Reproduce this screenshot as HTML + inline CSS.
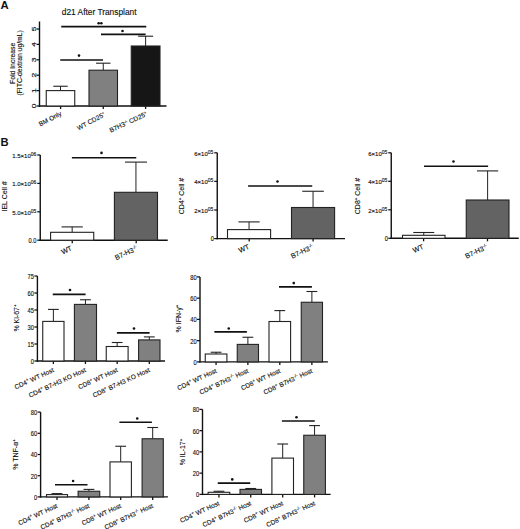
<!DOCTYPE html>
<html><head><meta charset="utf-8"><style>
html,body{margin:0;padding:0;background:#fff;}
body{width:520px;height:529px;overflow:hidden;}
svg{display:block;font-family:"Liberation Sans", sans-serif;}
</style></head><body>
<svg width="520" height="529" viewBox="0 0 520 529">
<rect width="520" height="529" fill="#fff"/>
<text x="0.60" y="9.00" font-size="11.3" text-anchor="start" font-weight="bold" fill="#111">A</text>
<text x="99.20" y="15.40" font-size="8.35" text-anchor="middle" font-weight="normal" fill="#111" stroke="#111" stroke-width="0.13">d21 After Transplant</text>
<line x1="39.50" y1="21.50" x2="39.50" y2="106.70" stroke="#111" stroke-width="1.4"/>
<line x1="36.50" y1="106.00" x2="39.50" y2="106.00" stroke="#111" stroke-width="1.25"/>
<line x1="36.50" y1="90.60" x2="39.50" y2="90.60" stroke="#111" stroke-width="1.25"/>
<line x1="36.50" y1="75.20" x2="39.50" y2="75.20" stroke="#111" stroke-width="1.25"/>
<line x1="36.50" y1="59.80" x2="39.50" y2="59.80" stroke="#111" stroke-width="1.25"/>
<line x1="36.50" y1="44.40" x2="39.50" y2="44.40" stroke="#111" stroke-width="1.25"/>
<line x1="36.50" y1="29.00" x2="39.50" y2="29.00" stroke="#111" stroke-width="1.25"/>
<text transform="translate(36.0 106.00) rotate(-90) scale(1 0.58)" font-size="8.4" text-anchor="middle" fill="#111" stroke="#111" stroke-width="0.3">0</text>
<text transform="translate(36.0 90.60) rotate(-90) scale(1 0.58)" font-size="8.4" text-anchor="middle" fill="#111" stroke="#111" stroke-width="0.3">1</text>
<text transform="translate(36.0 75.20) rotate(-90) scale(1 0.58)" font-size="8.4" text-anchor="middle" fill="#111" stroke="#111" stroke-width="0.3">2</text>
<text transform="translate(36.0 59.80) rotate(-90) scale(1 0.58)" font-size="8.4" text-anchor="middle" fill="#111" stroke="#111" stroke-width="0.3">3</text>
<text transform="translate(36.0 44.40) rotate(-90) scale(1 0.58)" font-size="8.4" text-anchor="middle" fill="#111" stroke="#111" stroke-width="0.3">4</text>
<text transform="translate(36.0 29.00) rotate(-90) scale(1 0.58)" font-size="8.4" text-anchor="middle" fill="#111" stroke="#111" stroke-width="0.3">5</text>
<line x1="38.80" y1="106.00" x2="166.50" y2="106.00" stroke="#111" stroke-width="1.4"/>
<line x1="60.60" y1="106.00" x2="60.60" y2="109.00" stroke="#111" stroke-width="1.3"/>
<line x1="103.25" y1="106.00" x2="103.25" y2="109.00" stroke="#111" stroke-width="1.3"/>
<line x1="145.60" y1="106.00" x2="145.60" y2="109.00" stroke="#111" stroke-width="1.3"/>
<line x1="60.50" y1="90.60" x2="60.50" y2="86.25" stroke="#222" stroke-width="1.0"/>
<line x1="53.30" y1="86.25" x2="67.70" y2="86.25" stroke="#222" stroke-width="1.1"/>
<rect x="46.25" y="90.60" width="28.50" height="15.40" fill="#ffffff" stroke="#222" stroke-width="1.1"/>
<line x1="103.25" y1="70.20" x2="103.25" y2="63.20" stroke="#222" stroke-width="1.0"/>
<line x1="96.05" y1="63.20" x2="110.45" y2="63.20" stroke="#222" stroke-width="1.1"/>
<rect x="89.00" y="70.20" width="28.50" height="35.80" fill="#808080" stroke="#222" stroke-width="1.1"/>
<line x1="145.62" y1="46.00" x2="145.62" y2="36.20" stroke="#222" stroke-width="1.0"/>
<line x1="138.12" y1="36.20" x2="153.12" y2="36.20" stroke="#222" stroke-width="1.1"/>
<rect x="131.25" y="46.00" width="28.75" height="60.00" fill="#161616" stroke="#222" stroke-width="1.1"/>
<line x1="61.25" y1="26.60" x2="146.25" y2="26.60" stroke="#111" stroke-width="1.6"/>
<circle cx="98.65" cy="23.20" r="1.3" fill="#111"/>
<circle cx="101.35" cy="23.20" r="1.3" fill="#111"/>
<line x1="101.00" y1="34.40" x2="145.60" y2="34.40" stroke="#111" stroke-width="1.6"/>
<circle cx="122.50" cy="31.00" r="1.3" fill="#111"/>
<line x1="60.25" y1="60.00" x2="103.00" y2="60.00" stroke="#111" stroke-width="1.6"/>
<circle cx="79.00" cy="55.60" r="1.3" fill="#111"/>
<text x="14.60" y="63.30" font-size="6.8" text-anchor="middle" font-weight="normal" fill="#111" stroke="#111" stroke-width="0.13" transform="rotate(-90 14.60 63.30)">Fold Increase</text>
<text x="22.10" y="62.90" font-size="6.8" text-anchor="middle" font-weight="normal" fill="#111" stroke="#111" stroke-width="0.13" transform="rotate(-90 22.10 62.90)">(FITC-dextran ug/mL)</text>
<text x="62.00" y="115.00" font-size="6.4" text-anchor="end" font-weight="normal" fill="#111" stroke="#111" stroke-width="0.13" transform="rotate(-28 62.00 115.00)">BM Only</text>
<text x="105.60" y="116.00" font-size="6.5" text-anchor="end" font-weight="normal" fill="#111" stroke="#111" stroke-width="0.13" transform="rotate(-28 105.60 116.00)">WT CD25<tspan dy="-2.6" font-size="3.8">+</tspan></text>
<text x="147.60" y="115.60" font-size="6.6" text-anchor="end" font-weight="normal" fill="#111" stroke="#111" stroke-width="0.13" transform="rotate(-25 147.60 115.60)">B7H3<tspan dy="-2.6" font-size="3.4">-/-</tspan><tspan dy="2.6"> CD25</tspan><tspan dy="-2.6" font-size="3.8">+</tspan></text>
<text x="0.60" y="145.80" font-size="11.2" text-anchor="start" font-weight="bold" fill="#111">B</text>
<line x1="40.25" y1="155.00" x2="40.25" y2="240.90" stroke="#111" stroke-width="1.4"/>
<line x1="37.25" y1="240.20" x2="40.25" y2="240.20" stroke="#111" stroke-width="1.25"/>
<line x1="37.25" y1="211.80" x2="40.25" y2="211.80" stroke="#111" stroke-width="1.25"/>
<line x1="37.25" y1="183.40" x2="40.25" y2="183.40" stroke="#111" stroke-width="1.25"/>
<line x1="37.25" y1="155.00" x2="40.25" y2="155.00" stroke="#111" stroke-width="1.25"/>
<text transform="translate(36.40 242.60) scale(0.86 1)" font-size="6.7" text-anchor="end" font-weight="normal" fill="#111" stroke="#111" stroke-width="0.13">0.0</text>
<text x="36.30" y="214.80" font-size="6.0" text-anchor="end" font-weight="normal" fill="#111" stroke="#111" stroke-width="0.13">5.0×10<tspan dy="-2.2" font-size="5.0">05</tspan></text>
<text x="36.30" y="186.40" font-size="6.0" text-anchor="end" font-weight="normal" fill="#111" stroke="#111" stroke-width="0.13">1.0×10<tspan dy="-2.2" font-size="5.0">06</tspan></text>
<text x="36.30" y="158.00" font-size="6.0" text-anchor="end" font-weight="normal" fill="#111" stroke="#111" stroke-width="0.13">1.5×10<tspan dy="-2.2" font-size="5.0">06</tspan></text>
<line x1="39.55" y1="240.20" x2="167.70" y2="240.20" stroke="#111" stroke-width="1.4"/>
<line x1="72.25" y1="240.20" x2="72.25" y2="243.20" stroke="#111" stroke-width="1.3"/>
<line x1="136.20" y1="240.20" x2="136.20" y2="243.20" stroke="#111" stroke-width="1.3"/>
<line x1="72.17" y1="232.30" x2="72.17" y2="226.90" stroke="#222" stroke-width="1.0"/>
<line x1="61.57" y1="226.90" x2="82.77" y2="226.90" stroke="#222" stroke-width="1.1"/>
<rect x="50.60" y="232.30" width="43.15" height="7.90" fill="#ffffff" stroke="#222" stroke-width="1.1"/>
<line x1="135.95" y1="192.30" x2="135.95" y2="162.10" stroke="#222" stroke-width="1.0"/>
<line x1="124.95" y1="162.10" x2="146.95" y2="162.10" stroke="#222" stroke-width="1.1"/>
<rect x="114.40" y="192.30" width="43.10" height="47.90" fill="#636363" stroke="#222" stroke-width="1.1"/>
<line x1="71.90" y1="157.75" x2="136.25" y2="157.75" stroke="#111" stroke-width="1.6"/>
<circle cx="101.50" cy="152.90" r="1.3" fill="#111"/>
<text x="7.20" y="196.50" font-size="7" text-anchor="middle" font-weight="normal" fill="#111" stroke="#111" stroke-width="0.13" transform="rotate(-90 7.20 196.50)">IEL Cell #</text>
<text x="72.50" y="250.00" font-size="7.0" text-anchor="end" font-weight="normal" fill="#111" stroke="#111" stroke-width="0.13" transform="rotate(-25 72.50 250.00)">WT</text>
<text x="138.00" y="250.00" font-size="7.0" text-anchor="end" font-weight="normal" fill="#111" stroke="#111" stroke-width="0.13" transform="rotate(-25 138.00 250.00)">B7-H3<tspan dy="-2.6" font-size="4.4">-/-</tspan></text>
<line x1="217.25" y1="152.75" x2="217.25" y2="239.30" stroke="#111" stroke-width="1.4"/>
<line x1="214.25" y1="238.60" x2="217.25" y2="238.60" stroke="#111" stroke-width="1.25"/>
<line x1="214.25" y1="210.00" x2="217.25" y2="210.00" stroke="#111" stroke-width="1.25"/>
<line x1="214.25" y1="181.40" x2="217.25" y2="181.40" stroke="#111" stroke-width="1.25"/>
<line x1="214.25" y1="152.80" x2="217.25" y2="152.80" stroke="#111" stroke-width="1.25"/>
<text transform="translate(213.90 241.00) scale(0.86 1)" font-size="6.7" text-anchor="end" font-weight="normal" fill="#111" stroke="#111" stroke-width="0.13">0</text>
<text x="213.30" y="213.00" font-size="6.0" text-anchor="end" font-weight="normal" fill="#111" stroke="#111" stroke-width="0.13">2×10<tspan dy="-2.2" font-size="5.0">05</tspan></text>
<text x="213.30" y="184.40" font-size="6.0" text-anchor="end" font-weight="normal" fill="#111" stroke="#111" stroke-width="0.13">4×10<tspan dy="-2.2" font-size="5.0">05</tspan></text>
<text x="213.30" y="155.80" font-size="6.0" text-anchor="end" font-weight="normal" fill="#111" stroke="#111" stroke-width="0.13">6×10<tspan dy="-2.2" font-size="5.0">05</tspan></text>
<line x1="216.55" y1="238.60" x2="345.00" y2="238.60" stroke="#111" stroke-width="1.4"/>
<line x1="249.20" y1="238.60" x2="249.20" y2="241.60" stroke="#111" stroke-width="1.3"/>
<line x1="313.10" y1="238.60" x2="313.10" y2="241.60" stroke="#111" stroke-width="1.3"/>
<line x1="249.05" y1="229.60" x2="249.05" y2="221.90" stroke="#222" stroke-width="1.0"/>
<line x1="238.45" y1="221.90" x2="259.65" y2="221.90" stroke="#222" stroke-width="1.1"/>
<rect x="227.50" y="229.60" width="43.10" height="9.00" fill="#ffffff" stroke="#222" stroke-width="1.1"/>
<line x1="313.05" y1="207.50" x2="313.05" y2="191.25" stroke="#222" stroke-width="1.0"/>
<line x1="302.25" y1="191.25" x2="323.85" y2="191.25" stroke="#222" stroke-width="1.1"/>
<rect x="291.50" y="207.50" width="43.10" height="31.10" fill="#636363" stroke="#222" stroke-width="1.1"/>
<line x1="248.10" y1="186.00" x2="312.25" y2="186.00" stroke="#111" stroke-width="1.6"/>
<circle cx="277.50" cy="181.50" r="1.3" fill="#111"/>
<text x="183.50" y="196.00" font-size="7" text-anchor="middle" font-weight="normal" fill="#111" stroke="#111" stroke-width="0.13" transform="rotate(-90 183.50 196.00)">CD4<tspan dy="-2.6" font-size="4.4">+</tspan><tspan dy="2.6"> Cell #</tspan></text>
<text x="249.80" y="248.50" font-size="7.0" text-anchor="end" font-weight="normal" fill="#111" stroke="#111" stroke-width="0.13" transform="rotate(-25 249.80 248.50)">WT</text>
<text x="314.00" y="248.50" font-size="7.0" text-anchor="end" font-weight="normal" fill="#111" stroke="#111" stroke-width="0.13" transform="rotate(-25 314.00 248.50)">B7-H3<tspan dy="-2.6" font-size="4.4">-/-</tspan></text>
<line x1="391.25" y1="152.75" x2="391.25" y2="239.00" stroke="#111" stroke-width="1.4"/>
<line x1="388.25" y1="238.30" x2="391.25" y2="238.30" stroke="#111" stroke-width="1.25"/>
<line x1="388.25" y1="209.80" x2="391.25" y2="209.80" stroke="#111" stroke-width="1.25"/>
<line x1="388.25" y1="181.30" x2="391.25" y2="181.30" stroke="#111" stroke-width="1.25"/>
<line x1="388.25" y1="152.80" x2="391.25" y2="152.80" stroke="#111" stroke-width="1.25"/>
<text transform="translate(388.00 240.70) scale(0.86 1)" font-size="6.7" text-anchor="end" font-weight="normal" fill="#111" stroke="#111" stroke-width="0.13">0</text>
<text x="387.30" y="212.80" font-size="6.0" text-anchor="end" font-weight="normal" fill="#111" stroke="#111" stroke-width="0.13">2×10<tspan dy="-2.2" font-size="5.0">05</tspan></text>
<text x="387.30" y="184.30" font-size="6.0" text-anchor="end" font-weight="normal" fill="#111" stroke="#111" stroke-width="0.13">4×10<tspan dy="-2.2" font-size="5.0">05</tspan></text>
<text x="387.30" y="155.80" font-size="6.0" text-anchor="end" font-weight="normal" fill="#111" stroke="#111" stroke-width="0.13">6×10<tspan dy="-2.2" font-size="5.0">05</tspan></text>
<line x1="390.55" y1="238.30" x2="518.75" y2="238.30" stroke="#111" stroke-width="1.4"/>
<line x1="423.60" y1="238.30" x2="423.60" y2="241.30" stroke="#111" stroke-width="1.3"/>
<line x1="487.50" y1="238.30" x2="487.50" y2="241.30" stroke="#111" stroke-width="1.3"/>
<line x1="423.75" y1="235.30" x2="423.75" y2="232.50" stroke="#222" stroke-width="1.0"/>
<line x1="413.25" y1="232.50" x2="434.25" y2="232.50" stroke="#222" stroke-width="1.1"/>
<rect x="402.50" y="235.30" width="42.50" height="3.00" fill="#ffffff" stroke="#222" stroke-width="1.1"/>
<line x1="487.62" y1="200.00" x2="487.62" y2="170.90" stroke="#222" stroke-width="1.0"/>
<line x1="477.02" y1="170.90" x2="498.23" y2="170.90" stroke="#222" stroke-width="1.1"/>
<rect x="466.25" y="200.00" width="42.75" height="38.30" fill="#636363" stroke="#222" stroke-width="1.1"/>
<line x1="424.00" y1="166.20" x2="488.10" y2="166.20" stroke="#111" stroke-width="1.6"/>
<circle cx="453.50" cy="161.50" r="1.3" fill="#111"/>
<text x="359.80" y="196.00" font-size="7" text-anchor="middle" font-weight="normal" fill="#111" stroke="#111" stroke-width="0.13" transform="rotate(-90 359.80 196.00)">CD8<tspan dy="-2.6" font-size="4.4">+</tspan><tspan dy="2.6"> Cell #</tspan></text>
<text x="424.20" y="248.50" font-size="7.0" text-anchor="end" font-weight="normal" fill="#111" stroke="#111" stroke-width="0.13" transform="rotate(-25 424.20 248.50)">WT</text>
<text x="488.20" y="248.50" font-size="7.0" text-anchor="end" font-weight="normal" fill="#111" stroke="#111" stroke-width="0.13" transform="rotate(-25 488.20 248.50)">B7-H3<tspan dy="-2.6" font-size="4.4">-/-</tspan></text>
<line x1="37.40" y1="276.00" x2="37.40" y2="361.70" stroke="#111" stroke-width="1.4"/>
<line x1="34.40" y1="361.00" x2="37.40" y2="361.00" stroke="#111" stroke-width="1.25"/>
<line x1="34.40" y1="344.00" x2="37.40" y2="344.00" stroke="#111" stroke-width="1.25"/>
<line x1="34.40" y1="327.00" x2="37.40" y2="327.00" stroke="#111" stroke-width="1.25"/>
<line x1="34.40" y1="310.00" x2="37.40" y2="310.00" stroke="#111" stroke-width="1.25"/>
<line x1="34.40" y1="293.00" x2="37.40" y2="293.00" stroke="#111" stroke-width="1.25"/>
<line x1="34.40" y1="276.00" x2="37.40" y2="276.00" stroke="#111" stroke-width="1.25"/>
<text transform="translate(34.00 363.90) scale(0.86 1)" font-size="6.7" text-anchor="end" font-weight="normal" fill="#111" stroke="#111" stroke-width="0.13">0</text>
<text transform="translate(34.00 346.90) scale(0.86 1)" font-size="6.7" text-anchor="end" font-weight="normal" fill="#111" stroke="#111" stroke-width="0.13">15</text>
<text transform="translate(34.00 329.90) scale(0.86 1)" font-size="6.7" text-anchor="end" font-weight="normal" fill="#111" stroke="#111" stroke-width="0.13">30</text>
<text transform="translate(34.00 312.90) scale(0.86 1)" font-size="6.7" text-anchor="end" font-weight="normal" fill="#111" stroke="#111" stroke-width="0.13">45</text>
<text transform="translate(34.00 295.90) scale(0.86 1)" font-size="6.7" text-anchor="end" font-weight="normal" fill="#111" stroke="#111" stroke-width="0.13">60</text>
<text transform="translate(34.00 278.90) scale(0.86 1)" font-size="6.7" text-anchor="end" font-weight="normal" fill="#111" stroke="#111" stroke-width="0.13">75</text>
<line x1="36.70" y1="361.00" x2="165.00" y2="361.00" stroke="#111" stroke-width="1.4"/>
<line x1="53.38" y1="361.00" x2="53.38" y2="364.00" stroke="#111" stroke-width="1.3"/>
<line x1="85.45" y1="361.00" x2="85.45" y2="364.00" stroke="#111" stroke-width="1.3"/>
<line x1="117.17" y1="361.00" x2="117.17" y2="364.00" stroke="#111" stroke-width="1.3"/>
<line x1="149.30" y1="361.00" x2="149.30" y2="364.00" stroke="#111" stroke-width="1.3"/>
<line x1="53.38" y1="321.40" x2="53.38" y2="309.40" stroke="#222" stroke-width="1.0"/>
<line x1="47.98" y1="309.40" x2="58.77" y2="309.40" stroke="#222" stroke-width="1.1"/>
<rect x="42.75" y="321.40" width="21.25" height="39.60" fill="#ffffff" stroke="#222" stroke-width="1.1"/>
<line x1="85.45" y1="304.40" x2="85.45" y2="299.75" stroke="#222" stroke-width="1.0"/>
<line x1="80.05" y1="299.75" x2="90.85" y2="299.75" stroke="#222" stroke-width="1.1"/>
<rect x="74.40" y="304.40" width="22.10" height="56.60" fill="#808080" stroke="#222" stroke-width="1.1"/>
<line x1="117.17" y1="346.50" x2="117.17" y2="342.50" stroke="#222" stroke-width="1.0"/>
<line x1="111.77" y1="342.50" x2="122.58" y2="342.50" stroke="#222" stroke-width="1.1"/>
<rect x="106.25" y="346.50" width="21.85" height="14.50" fill="#ffffff" stroke="#222" stroke-width="1.1"/>
<line x1="149.30" y1="339.90" x2="149.30" y2="336.90" stroke="#222" stroke-width="1.0"/>
<line x1="143.90" y1="336.90" x2="154.70" y2="336.90" stroke="#222" stroke-width="1.1"/>
<rect x="138.60" y="339.90" width="21.40" height="21.10" fill="#808080" stroke="#222" stroke-width="1.1"/>
<line x1="52.75" y1="294.40" x2="85.60" y2="294.40" stroke="#111" stroke-width="1.6"/>
<circle cx="70.00" cy="290.00" r="1.3" fill="#111"/>
<line x1="116.90" y1="332.90" x2="149.60" y2="332.90" stroke="#111" stroke-width="1.6"/>
<circle cx="134.00" cy="328.50" r="1.3" fill="#111"/>
<text x="18.60" y="318.00" font-size="7.0" text-anchor="middle" font-weight="normal" fill="#111" stroke="#111" stroke-width="0.13" transform="rotate(-90 18.60 318.00)">% Ki-67<tspan dy="-2.6" font-size="4.4">+</tspan></text>
<text x="54.38" y="371.50" font-size="6.5" text-anchor="end" font-weight="normal" fill="#111" stroke="#111" stroke-width="0.13" transform="rotate(-25 54.38 371.50)">CD4<tspan dy="-2.6" font-size="4.4">+</tspan><tspan dy="2.6"> WT Host</tspan></text>
<text x="86.45" y="371.50" font-size="6.5" text-anchor="end" font-weight="normal" fill="#111" stroke="#111" stroke-width="0.13" transform="rotate(-25 86.45 371.50)">CD4<tspan dy="-2.6" font-size="4.4">+</tspan><tspan dy="2.6"> B7-H3 KO Host</tspan></text>
<text x="118.17" y="371.50" font-size="6.5" text-anchor="end" font-weight="normal" fill="#111" stroke="#111" stroke-width="0.13" transform="rotate(-25 118.17 371.50)">CD8<tspan dy="-2.6" font-size="4.4">+</tspan><tspan dy="2.6"> WT Host</tspan></text>
<text x="150.30" y="371.50" font-size="6.5" text-anchor="end" font-weight="normal" fill="#111" stroke="#111" stroke-width="0.13" transform="rotate(-25 150.30 371.50)">CD8<tspan dy="-2.6" font-size="4.4">+</tspan><tspan dy="2.6"> B7-H3 KO Host</tspan></text>
<line x1="200.00" y1="276.90" x2="200.00" y2="362.60" stroke="#111" stroke-width="1.4"/>
<line x1="197.00" y1="361.90" x2="200.00" y2="361.90" stroke="#111" stroke-width="1.25"/>
<line x1="197.00" y1="340.65" x2="200.00" y2="340.65" stroke="#111" stroke-width="1.25"/>
<line x1="197.00" y1="319.40" x2="200.00" y2="319.40" stroke="#111" stroke-width="1.25"/>
<line x1="197.00" y1="298.15" x2="200.00" y2="298.15" stroke="#111" stroke-width="1.25"/>
<line x1="197.00" y1="276.90" x2="200.00" y2="276.90" stroke="#111" stroke-width="1.25"/>
<text transform="translate(196.60 364.80) scale(0.86 1)" font-size="6.7" text-anchor="end" font-weight="normal" fill="#111" stroke="#111" stroke-width="0.13">0</text>
<text transform="translate(196.60 343.55) scale(0.86 1)" font-size="6.7" text-anchor="end" font-weight="normal" fill="#111" stroke="#111" stroke-width="0.13">20</text>
<text transform="translate(196.60 322.30) scale(0.86 1)" font-size="6.7" text-anchor="end" font-weight="normal" fill="#111" stroke="#111" stroke-width="0.13">40</text>
<text transform="translate(196.60 301.05) scale(0.86 1)" font-size="6.7" text-anchor="end" font-weight="normal" fill="#111" stroke="#111" stroke-width="0.13">60</text>
<text transform="translate(196.60 279.80) scale(0.86 1)" font-size="6.7" text-anchor="end" font-weight="normal" fill="#111" stroke="#111" stroke-width="0.13">80</text>
<line x1="199.30" y1="361.90" x2="327.90" y2="361.90" stroke="#111" stroke-width="1.4"/>
<line x1="216.07" y1="361.90" x2="216.07" y2="364.90" stroke="#111" stroke-width="1.3"/>
<line x1="247.88" y1="361.90" x2="247.88" y2="364.90" stroke="#111" stroke-width="1.3"/>
<line x1="279.80" y1="361.90" x2="279.80" y2="364.90" stroke="#111" stroke-width="1.3"/>
<line x1="311.88" y1="361.90" x2="311.88" y2="364.90" stroke="#111" stroke-width="1.3"/>
<line x1="216.07" y1="354.00" x2="216.07" y2="352.25" stroke="#222" stroke-width="1.0"/>
<line x1="210.67" y1="352.25" x2="221.47" y2="352.25" stroke="#222" stroke-width="1.1"/>
<rect x="205.25" y="354.00" width="21.65" height="7.90" fill="#ffffff" stroke="#222" stroke-width="1.1"/>
<line x1="247.88" y1="344.40" x2="247.88" y2="337.25" stroke="#222" stroke-width="1.0"/>
<line x1="242.47" y1="337.25" x2="253.28" y2="337.25" stroke="#222" stroke-width="1.1"/>
<rect x="237.25" y="344.40" width="21.25" height="17.50" fill="#808080" stroke="#222" stroke-width="1.1"/>
<line x1="279.80" y1="321.50" x2="279.80" y2="310.60" stroke="#222" stroke-width="1.0"/>
<line x1="274.40" y1="310.60" x2="285.20" y2="310.60" stroke="#222" stroke-width="1.1"/>
<rect x="269.00" y="321.50" width="21.60" height="40.40" fill="#ffffff" stroke="#222" stroke-width="1.1"/>
<line x1="311.88" y1="302.25" x2="311.88" y2="291.50" stroke="#222" stroke-width="1.0"/>
<line x1="306.48" y1="291.50" x2="317.27" y2="291.50" stroke="#222" stroke-width="1.1"/>
<rect x="301.25" y="302.25" width="21.25" height="59.65" fill="#808080" stroke="#222" stroke-width="1.1"/>
<line x1="214.40" y1="331.90" x2="246.90" y2="331.90" stroke="#111" stroke-width="1.6"/>
<circle cx="228.75" cy="328.50" r="1.3" fill="#111"/>
<line x1="279.00" y1="286.90" x2="311.90" y2="286.90" stroke="#111" stroke-width="1.6"/>
<circle cx="293.75" cy="283.10" r="1.3" fill="#111"/>
<text x="181.00" y="318.50" font-size="7.0" text-anchor="middle" font-weight="normal" fill="#111" stroke="#111" stroke-width="0.13" transform="rotate(-90 181.00 318.50)">% IFN-γ<tspan dy="-2.6" font-size="4.4">+</tspan></text>
<text x="217.07" y="372.40" font-size="6.5" text-anchor="end" font-weight="normal" fill="#111" stroke="#111" stroke-width="0.13" transform="rotate(-25 217.07 372.40)">CD4<tspan dy="-2.6" font-size="4.4">+</tspan><tspan dy="2.6"> WT Host</tspan></text>
<text x="248.88" y="372.40" font-size="6.5" text-anchor="end" font-weight="normal" fill="#111" stroke="#111" stroke-width="0.13" transform="rotate(-25 248.88 372.40)">CD4<tspan dy="-2.6" font-size="4.4">+</tspan><tspan dy="2.6"> B7H3</tspan><tspan dy="-2.6" font-size="4.4">-/-</tspan><tspan dy="2.6"> Host</tspan></text>
<text x="280.80" y="372.40" font-size="6.5" text-anchor="end" font-weight="normal" fill="#111" stroke="#111" stroke-width="0.13" transform="rotate(-25 280.80 372.40)">CD8<tspan dy="-2.6" font-size="4.4">+</tspan><tspan dy="2.6"> WT Host</tspan></text>
<text x="312.88" y="372.40" font-size="6.5" text-anchor="end" font-weight="normal" fill="#111" stroke="#111" stroke-width="0.13" transform="rotate(-25 312.88 372.40)">CD8<tspan dy="-2.6" font-size="4.4">+</tspan><tspan dy="2.6"> B7H3</tspan><tspan dy="-2.6" font-size="4.4">-/-</tspan><tspan dy="2.6"> Host</tspan></text>
<line x1="40.60" y1="412.10" x2="40.60" y2="497.60" stroke="#111" stroke-width="1.4"/>
<line x1="37.60" y1="496.90" x2="40.60" y2="496.90" stroke="#111" stroke-width="1.25"/>
<line x1="37.60" y1="475.70" x2="40.60" y2="475.70" stroke="#111" stroke-width="1.25"/>
<line x1="37.60" y1="454.50" x2="40.60" y2="454.50" stroke="#111" stroke-width="1.25"/>
<line x1="37.60" y1="433.30" x2="40.60" y2="433.30" stroke="#111" stroke-width="1.25"/>
<line x1="37.60" y1="412.10" x2="40.60" y2="412.10" stroke="#111" stroke-width="1.25"/>
<text transform="translate(37.20 499.80) scale(0.86 1)" font-size="6.7" text-anchor="end" font-weight="normal" fill="#111" stroke="#111" stroke-width="0.13">0</text>
<text transform="translate(37.20 478.60) scale(0.86 1)" font-size="6.7" text-anchor="end" font-weight="normal" fill="#111" stroke="#111" stroke-width="0.13">20</text>
<text transform="translate(37.20 457.40) scale(0.86 1)" font-size="6.7" text-anchor="end" font-weight="normal" fill="#111" stroke="#111" stroke-width="0.13">40</text>
<text transform="translate(37.20 436.20) scale(0.86 1)" font-size="6.7" text-anchor="end" font-weight="normal" fill="#111" stroke="#111" stroke-width="0.13">60</text>
<text transform="translate(37.20 415.00) scale(0.86 1)" font-size="6.7" text-anchor="end" font-weight="normal" fill="#111" stroke="#111" stroke-width="0.13">80</text>
<line x1="39.90" y1="496.90" x2="167.90" y2="496.90" stroke="#111" stroke-width="1.4"/>
<line x1="57.00" y1="496.90" x2="57.00" y2="499.90" stroke="#111" stroke-width="1.3"/>
<line x1="88.92" y1="496.90" x2="88.92" y2="499.90" stroke="#111" stroke-width="1.3"/>
<line x1="120.70" y1="496.90" x2="120.70" y2="499.90" stroke="#111" stroke-width="1.3"/>
<line x1="152.70" y1="496.90" x2="152.70" y2="499.90" stroke="#111" stroke-width="1.3"/>
<line x1="57.00" y1="494.60" x2="57.00" y2="493.60" stroke="#222" stroke-width="1.0"/>
<line x1="51.60" y1="493.60" x2="62.40" y2="493.60" stroke="#222" stroke-width="1.1"/>
<rect x="46.50" y="494.60" width="21.00" height="2.30" fill="#ffffff" stroke="#222" stroke-width="1.1"/>
<line x1="88.92" y1="491.25" x2="88.92" y2="489.40" stroke="#222" stroke-width="1.0"/>
<line x1="83.52" y1="489.40" x2="94.33" y2="489.40" stroke="#222" stroke-width="1.1"/>
<rect x="78.10" y="491.25" width="21.65" height="5.65" fill="#808080" stroke="#222" stroke-width="1.1"/>
<line x1="120.70" y1="461.90" x2="120.70" y2="446.25" stroke="#222" stroke-width="1.0"/>
<line x1="115.30" y1="446.25" x2="126.10" y2="446.25" stroke="#222" stroke-width="1.1"/>
<rect x="110.00" y="461.90" width="21.40" height="35.00" fill="#ffffff" stroke="#222" stroke-width="1.1"/>
<line x1="152.70" y1="438.75" x2="152.70" y2="427.50" stroke="#222" stroke-width="1.0"/>
<line x1="147.30" y1="427.50" x2="158.10" y2="427.50" stroke="#222" stroke-width="1.1"/>
<rect x="142.10" y="438.75" width="21.20" height="58.15" fill="#808080" stroke="#222" stroke-width="1.1"/>
<line x1="55.00" y1="484.75" x2="87.50" y2="484.75" stroke="#111" stroke-width="1.6"/>
<circle cx="73.10" cy="481.00" r="1.3" fill="#111"/>
<line x1="119.40" y1="422.25" x2="151.90" y2="422.25" stroke="#111" stroke-width="1.6"/>
<circle cx="137.25" cy="418.50" r="1.3" fill="#111"/>
<text x="17.50" y="454.50" font-size="7.0" text-anchor="middle" font-weight="normal" fill="#111" stroke="#111" stroke-width="0.13" transform="rotate(-90 17.50 454.50)">% TNF-α<tspan dy="-2.6" font-size="4.4">+</tspan></text>
<text x="58.00" y="507.40" font-size="6.5" text-anchor="end" font-weight="normal" fill="#111" stroke="#111" stroke-width="0.13" transform="rotate(-25 58.00 507.40)">CD4<tspan dy="-2.6" font-size="4.4">+</tspan><tspan dy="2.6"> WT Host</tspan></text>
<text x="89.92" y="507.40" font-size="6.5" text-anchor="end" font-weight="normal" fill="#111" stroke="#111" stroke-width="0.13" transform="rotate(-25 89.92 507.40)">CD4<tspan dy="-2.6" font-size="4.4">+</tspan><tspan dy="2.6"> B7H3</tspan><tspan dy="-2.6" font-size="4.4">-/-</tspan><tspan dy="2.6"> Host</tspan></text>
<text x="121.70" y="507.40" font-size="6.5" text-anchor="end" font-weight="normal" fill="#111" stroke="#111" stroke-width="0.13" transform="rotate(-25 121.70 507.40)">CD8<tspan dy="-2.6" font-size="4.4">+</tspan><tspan dy="2.6"> WT Host</tspan></text>
<text x="153.70" y="507.40" font-size="6.5" text-anchor="end" font-weight="normal" fill="#111" stroke="#111" stroke-width="0.13" transform="rotate(-25 153.70 507.40)">CD8<tspan dy="-2.6" font-size="4.4">+</tspan><tspan dy="2.6"> B7H3</tspan><tspan dy="-2.6" font-size="4.4">-/-</tspan><tspan dy="2.6"> Host</tspan></text>
<line x1="202.50" y1="409.40" x2="202.50" y2="495.10" stroke="#111" stroke-width="1.4"/>
<line x1="199.50" y1="494.40" x2="202.50" y2="494.40" stroke="#111" stroke-width="1.25"/>
<line x1="199.50" y1="473.15" x2="202.50" y2="473.15" stroke="#111" stroke-width="1.25"/>
<line x1="199.50" y1="451.90" x2="202.50" y2="451.90" stroke="#111" stroke-width="1.25"/>
<line x1="199.50" y1="430.65" x2="202.50" y2="430.65" stroke="#111" stroke-width="1.25"/>
<line x1="199.50" y1="409.40" x2="202.50" y2="409.40" stroke="#111" stroke-width="1.25"/>
<text transform="translate(199.10 497.30) scale(0.86 1)" font-size="6.7" text-anchor="end" font-weight="normal" fill="#111" stroke="#111" stroke-width="0.13">0</text>
<text transform="translate(199.10 476.05) scale(0.86 1)" font-size="6.7" text-anchor="end" font-weight="normal" fill="#111" stroke="#111" stroke-width="0.13">20</text>
<text transform="translate(199.10 454.80) scale(0.86 1)" font-size="6.7" text-anchor="end" font-weight="normal" fill="#111" stroke="#111" stroke-width="0.13">40</text>
<text transform="translate(199.10 433.55) scale(0.86 1)" font-size="6.7" text-anchor="end" font-weight="normal" fill="#111" stroke="#111" stroke-width="0.13">60</text>
<text transform="translate(199.10 412.30) scale(0.86 1)" font-size="6.7" text-anchor="end" font-weight="normal" fill="#111" stroke="#111" stroke-width="0.13">80</text>
<line x1="201.80" y1="494.40" x2="330.60" y2="494.40" stroke="#111" stroke-width="1.4"/>
<line x1="218.93" y1="494.40" x2="218.93" y2="497.40" stroke="#111" stroke-width="1.3"/>
<line x1="250.75" y1="494.40" x2="250.75" y2="497.40" stroke="#111" stroke-width="1.3"/>
<line x1="282.70" y1="494.40" x2="282.70" y2="497.40" stroke="#111" stroke-width="1.3"/>
<line x1="314.57" y1="494.40" x2="314.57" y2="497.40" stroke="#111" stroke-width="1.3"/>
<line x1="218.93" y1="492.30" x2="218.93" y2="491.25" stroke="#222" stroke-width="1.0"/>
<line x1="213.53" y1="491.25" x2="224.33" y2="491.25" stroke="#222" stroke-width="1.1"/>
<rect x="208.10" y="492.30" width="21.65" height="2.10" fill="#ffffff" stroke="#222" stroke-width="1.1"/>
<line x1="250.75" y1="489.40" x2="250.75" y2="488.50" stroke="#222" stroke-width="1.0"/>
<line x1="245.35" y1="488.50" x2="256.15" y2="488.50" stroke="#222" stroke-width="1.1"/>
<rect x="240.00" y="489.40" width="21.50" height="5.00" fill="#808080" stroke="#222" stroke-width="1.1"/>
<line x1="282.70" y1="458.10" x2="282.70" y2="444.00" stroke="#222" stroke-width="1.0"/>
<line x1="277.30" y1="444.00" x2="288.10" y2="444.00" stroke="#222" stroke-width="1.1"/>
<rect x="271.90" y="458.10" width="21.60" height="36.30" fill="#ffffff" stroke="#222" stroke-width="1.1"/>
<line x1="314.57" y1="435.25" x2="314.57" y2="425.60" stroke="#222" stroke-width="1.0"/>
<line x1="309.18" y1="425.60" x2="319.97" y2="425.60" stroke="#222" stroke-width="1.1"/>
<rect x="303.75" y="435.25" width="21.65" height="59.15" fill="#808080" stroke="#222" stroke-width="1.1"/>
<line x1="217.75" y1="483.10" x2="250.25" y2="483.10" stroke="#111" stroke-width="1.6"/>
<circle cx="232.25" cy="479.40" r="1.3" fill="#111"/>
<line x1="281.90" y1="421.00" x2="314.75" y2="421.00" stroke="#111" stroke-width="1.6"/>
<circle cx="296.50" cy="417.25" r="1.3" fill="#111"/>
<text x="185.00" y="452.00" font-size="7.0" text-anchor="middle" font-weight="normal" fill="#111" stroke="#111" stroke-width="0.13" transform="rotate(-90 185.00 452.00)">% IL-17<tspan dy="-2.6" font-size="4.4">+</tspan></text>
<text x="219.93" y="504.90" font-size="6.5" text-anchor="end" font-weight="normal" fill="#111" stroke="#111" stroke-width="0.13" transform="rotate(-25 219.93 504.90)">CD4<tspan dy="-2.6" font-size="4.4">+</tspan><tspan dy="2.6"> WT Host</tspan></text>
<text x="251.75" y="504.90" font-size="6.5" text-anchor="end" font-weight="normal" fill="#111" stroke="#111" stroke-width="0.13" transform="rotate(-25 251.75 504.90)">CD4<tspan dy="-2.6" font-size="4.4">+</tspan><tspan dy="2.6"> B7H3</tspan><tspan dy="-2.6" font-size="4.4">-/-</tspan><tspan dy="2.6"> Host</tspan></text>
<text x="283.70" y="504.90" font-size="6.5" text-anchor="end" font-weight="normal" fill="#111" stroke="#111" stroke-width="0.13" transform="rotate(-25 283.70 504.90)">CD8<tspan dy="-2.6" font-size="4.4">+</tspan><tspan dy="2.6"> WT Host</tspan></text>
<text x="315.57" y="504.90" font-size="6.5" text-anchor="end" font-weight="normal" fill="#111" stroke="#111" stroke-width="0.13" transform="rotate(-25 315.57 504.90)">CD8<tspan dy="-2.6" font-size="4.4">+</tspan><tspan dy="2.6"> B7H3</tspan><tspan dy="-2.6" font-size="4.4">-/-</tspan><tspan dy="2.6"> Host</tspan></text>
</svg>
</body></html>
